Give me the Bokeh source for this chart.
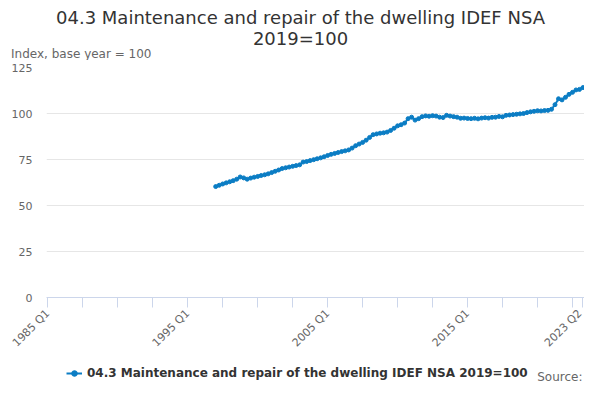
from math import pi
from bokeh.plotting import figure
from bokeh.layouts import column
from bokeh.models import FixedTicker, Label, Legend, LegendItem, Range1d, ColumnDataSource
from bokeh.embed import file_html
from bokeh.resources import INLINE

# ---------------- data ----------------
title_lines = ["04.3 Maintenance and repair of the dwelling IDEF NSA", "2019=100"]
y_axis_title = "Index, base year = 100"
series_name = "04.3 Maintenance and repair of the dwelling IDEF NSA 2019=100"
source_text = "Source:"

axis_first = "1985 Q1"
axis_last = "2023 Q2"
tick_every = 10
labelled_ticks = ["1985 Q1", "1995 Q1", "2005 Q1", "2015 Q1", "2023 Q2"]
y_ticks = [0, 25, 50, 75, 100, 125]

series_first = "1997 Q1"
values = [
    60.3, 61.0, 61.7, 62.3,   # 1997
    62.9, 63.5, 64.3, 65.5,   # 1998
    65.0, 64.3, 64.9, 65.4,   # 1999
    65.8, 66.3, 66.7, 67.2,   # 2000
    67.9, 68.6, 69.3, 70.1,   # 2001
    70.5, 70.9, 71.3, 71.7,   # 2002
    72.1, 73.6, 73.9, 74.4,   # 2003
    74.9, 75.4, 75.9, 76.5,   # 2004
    77.2, 77.8, 78.3, 78.8,   # 2005
    79.3, 79.7, 80.2, 81.2,   # 2006
    82.5, 83.4, 84.3, 85.5,   # 2007
    87.0, 88.5, 88.9, 89.3,   # 2008
    89.5, 89.9, 90.8, 92.0,   # 2009
    93.3, 93.9, 94.8, 97.2,   # 2010
    98.0, 96.4, 97.2, 98.3,   # 2011
    98.7, 98.5, 98.8, 98.6,   # 2012
    98.0, 97.8, 99.0, 98.6,   # 2013
    98.3, 98.0, 97.4, 97.5,   # 2014
    97.3, 97.2, 97.4, 97.1,   # 2015
    97.5, 97.7, 97.5, 97.9,   # 2016
    98.0, 98.4, 98.2, 99.0,   # 2017
    99.2, 99.4, 99.6, 99.8,   # 2018
    100.0, 100.5, 100.9, 101.2,  # 2019
    101.5, 101.4, 101.6, 101.7,  # 2020
    102.3, 104.8, 108.0, 107.4,  # 2021
    108.8, 110.4, 111.5, 112.8,  # 2022
    113.1, 114.1,             # 2023
]

# ---------------- helpers ----------------
def q_index(label):
    y, q = label.split(" Q")
    return (int(y) - 1985) * 4 + int(q) - 1

def q_label(i):
    return f"{1985 + i // 4} Q{i % 4 + 1}"

start = q_index(series_first)
xs = [start + i for i in range(len(values))]
quarters = [q_label(x) for x in xs]
src = ColumnDataSource(dict(x=xs, y=values, quarter=quarters))

last = q_index(axis_last)
tick_pos = list(range(q_index(axis_first), last, tick_every)) + [last]
overrides = {t: " " for t in tick_pos}
for lab in labelled_ticks:
    overrides[q_index(lab)] = lab

# ---------------- layout constants (page px) ----------------
W, H = 584, 384
PLOT_L = 46                 # left edge of plot area
FW = W - PLOT_L
HEAD_H = 60                 # title strip
Y_TOP_PX, Y_ZERO_PX = 67, 297
BOTTOM_AXIS = 60
FOOT_TOP = Y_ZERO_PX + BOTTOM_AXIS
FOOT_H = H - FOOT_TOP
SUB_CY = 53                 # subtitle centre line
SUB_X = 10                  # subtitle left edge
SUB_W = 141                 # approx. subtitle width in px

FONT = "DejaVu Sans"
BLUE = "#0b7dc4"

def blank(height, yaxis=False):
    f = figure(frame_width=FW, frame_height=height, output_backend="svg",
               toolbar_location=None, x_axis_type=None,
               y_axis_type="linear" if yaxis else None,
               x_range=Range1d(0, 1), y_range=Range1d(0, height),
               min_border_left=PLOT_L, min_border_right=0,
               min_border_top=0, min_border_bottom=0)
    f.outline_line_color = None
    f.xgrid.visible = False
    f.ygrid.visible = False
    return f

# ---------------- title strip ----------------
head = blank(HEAD_H, yaxis=True)
for line_text, cy in zip(title_lines, [17, 38]):
    head.add_layout(Label(x=300 - PLOT_L, y=HEAD_H - cy, x_units="screen", y_units="screen",
                          text=line_text, text_align="center", text_baseline="middle",
                          text_font=FONT, text_font_size="18px", text_color="#333333"))
# the subtitle is carried by the strip's (otherwise invisible) left axis
sub_tick = HEAD_H - SUB_CY
head.yaxis.ticker = FixedTicker(ticks=[sub_tick])
head.yaxis.major_label_overrides = {sub_tick: y_axis_title}
head.yaxis.axis_line_color = None
head.yaxis.major_tick_line_color = None
head.yaxis.minor_tick_line_color = None
head.yaxis.major_tick_out = 0
head.yaxis.major_tick_in = 0
head.yaxis.major_label_standoff = PLOT_L - (SUB_X + SUB_W)
head.yaxis.major_label_text_font = FONT
head.yaxis.major_label_text_font_size = "12px"
head.yaxis.major_label_text_color = "#666666"

# ---------------- main plot ----------------
p = figure(frame_width=FW, frame_height=Y_ZERO_PX - Y_TOP_PX,
           output_backend="svg", toolbar_location=None,
           x_range=Range1d(-0.37, 153.43), y_range=Range1d(0, y_ticks[-1]),
           min_border_left=PLOT_L, min_border_right=0,
           min_border_top=Y_TOP_PX - HEAD_H, min_border_bottom=BOTTOM_AXIS)
p.outline_line_color = None

p.xgrid.grid_line_color = None
p.ygrid.grid_line_color = "#e6e6e6"
p.ygrid.grid_line_width = 1

p.yaxis.ticker = FixedTicker(ticks=y_ticks)
p.yaxis.axis_line_color = None
p.yaxis.major_tick_line_color = None
p.yaxis.minor_tick_line_color = None
p.yaxis.major_tick_out = 0
p.yaxis.major_tick_in = 0
p.yaxis.major_label_standoff = 14
p.yaxis.major_label_text_font = FONT
p.yaxis.major_label_text_font_size = "11px"
p.yaxis.major_label_text_color = "#666666"

p.xaxis.ticker = FixedTicker(ticks=tick_pos)
p.xaxis.major_label_overrides = overrides
p.xaxis.axis_line_color = "#ccd6eb"
p.xaxis.major_tick_line_color = "#ccd6eb"
p.xaxis.minor_tick_line_color = None
p.xaxis.major_tick_out = 10
p.xaxis.major_tick_in = 0
p.xaxis.major_label_orientation = pi / 4
p.xaxis.major_label_standoff = 4
p.xaxis.major_label_text_font = FONT
p.xaxis.major_label_text_font_size = "11px"
p.xaxis.major_label_text_color = "#666666"

p.line("x", "y", source=src, line_color=BLUE, line_width=2)
p.scatter("x", "y", source=src, size=4, fill_color=BLUE, line_color=BLUE)

# ---------------- legend / source strip ----------------
foot = blank(FOOT_H)
k_ln = foot.line("x", "y", source=src, line_color=BLUE, line_width=2, visible=False)
k_sc = foot.scatter("x", "y", source=src, size=4, fill_color=BLUE, line_color=BLUE, visible=False)
legend = Legend(items=[LegendItem(label=series_name, renderers=[k_ln, k_sc])],
                orientation="horizontal", location=(66 - PLOT_L, H - 380),
                label_text_font=FONT, label_text_font_size="12px",
                label_text_font_style="bold", label_text_color="#333333",
                glyph_width=16, glyph_height=14, label_height=14,
                label_standoff=5, padding=0, margin=0, spacing=0,
                inactive_fill_alpha=0,
                border_line_color=None, background_fill_alpha=0)
foot.add_layout(legend, "center")
foot.add_layout(Label(x=582 - PLOT_L, y=H - 383, x_units="screen", y_units="screen",
                      text=source_text, text_align="right", text_baseline="bottom",
                      text_font=FONT, text_font_size="12px", text_color="#666666"))

open("out.html", "w").write(file_html(column(head, p, foot, spacing=0), INLINE))
